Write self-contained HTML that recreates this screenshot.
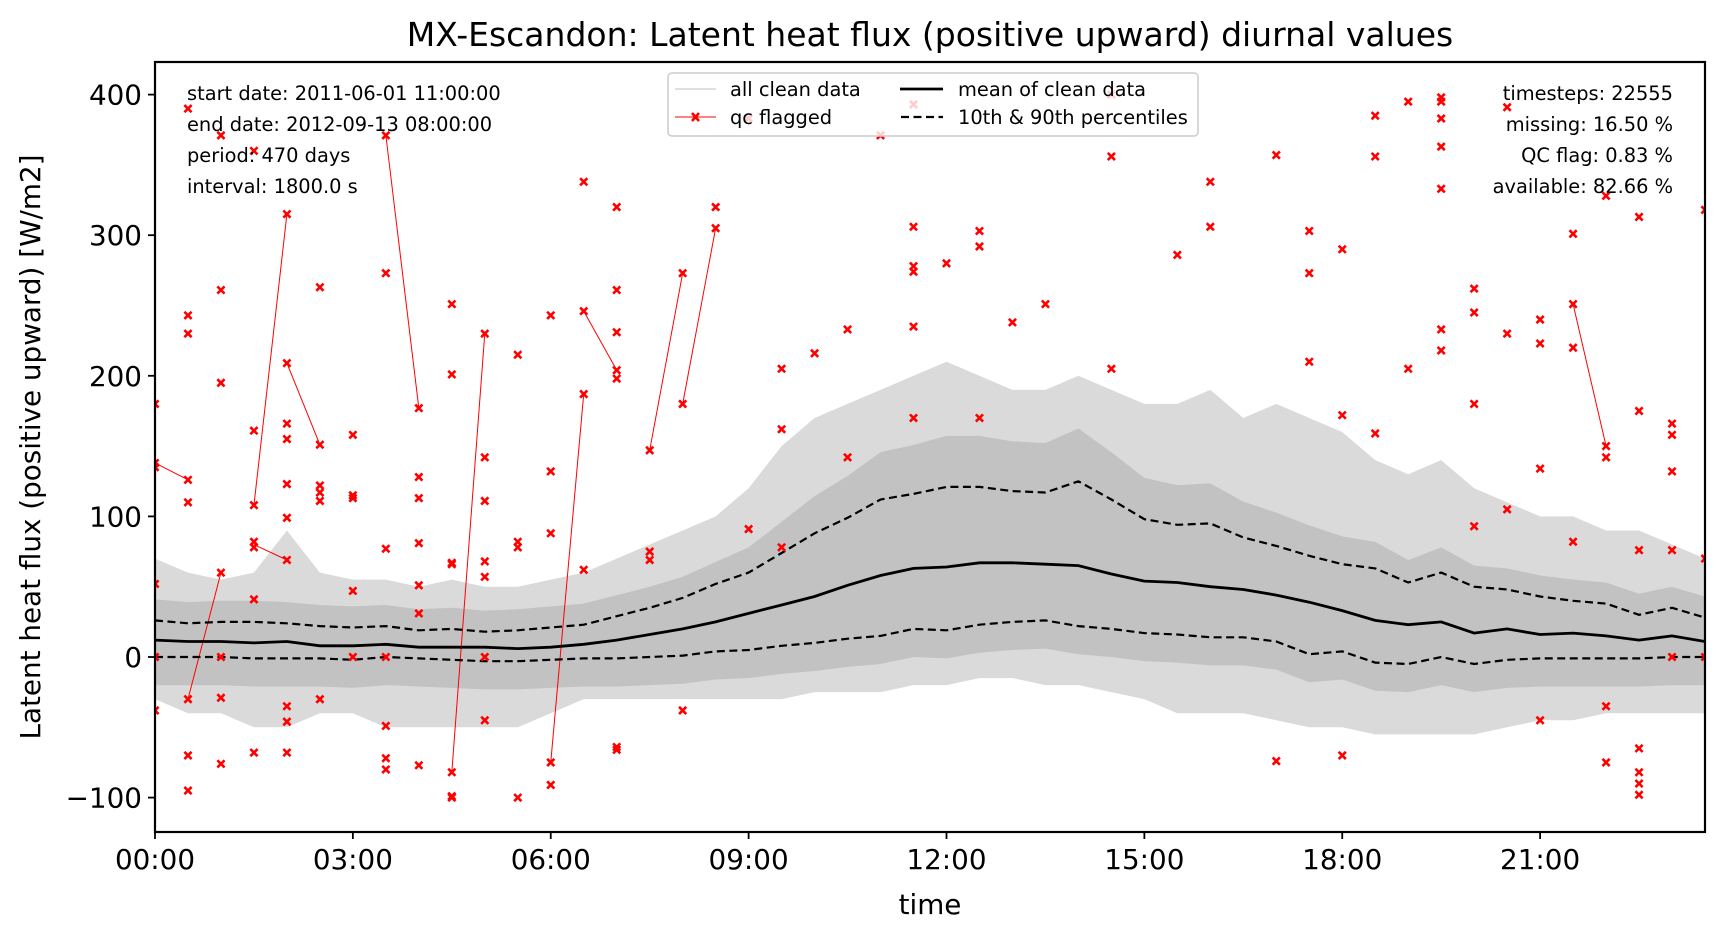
<!DOCTYPE html>
<html><head><meta charset="utf-8"><style>
body{margin:0;background:#fff}
svg{display:block;font-family:"DejaVu Sans","Liberation Sans",sans-serif}
</style></head><body>
<svg id="chart" width="1724" height="939" viewBox="0 0 1724 939">
<text x="930" y="46" font-size="33" text-anchor="middle">MX-Escandon: Latent heat flux (positive upward) diurnal values</text>
<g id="plot"></g>
<text x="40" y="447" font-size="27.8" text-anchor="middle" transform="rotate(-90 40 447)">Latent heat flux (positive upward) [W/m2]</text>
<text x="930" y="914" font-size="27.8" text-anchor="middle">time</text>
</svg>
<script>
const hours=[0,0.5,1,1.5,2,2.5,3,3.5,4,4.5,5,5.5,6,6.5,7,7.5,8,8.5,9,9.5,10,10.5,11,11.5,12,12.5,13,13.5,14,14.5,15,15.5,16,16.5,17,17.5,18,18.5,19,19.5,20,20.5,21,21.5,22,22.5,23,23.5];
const meanVals=[12,11,11,10,11,8,8,9,7,7,7,6,7,9,12,16,20,25,31,37,43,51,58,63,64,67,67,66,65,59,54,53,50,48,44,39,33,26,23,25,17,20,16,17,15,12,15,11];
const p90Vals=[26,24,25,25,24,22,21,22,19,20,18,19,21,23,29,35,42,52,60,74,88,99,112,116,121,121,118,117,125,112,98,94,95,85,79,72,66,63,53,60,50,48,43,40,38,30,35,28];
const p10Vals=[0,0,0,-1,-1,-1,-2,0,-1,-2,-3,-3,-2,-1,-1,0,1,4,5,8,10,13,15,20,19,23,25,26,22,20,17,16,14,14,11,2,4,-4,-5,0,-5,-2,-1,-1,-1,-1,0,0];
const outerHigh=[70,60,55,60,90,60,55,55,50,55,50,50,55,60,70,80,90,100,120,150,170,180,190,200,210,200,190,190,200,190,180,180,190,170,180,170,160,140,130,140,120,110,100,100,90,90,80,70];
const outerLow=[-30,-40,-40,-50,-50,-40,-40,-50,-50,-50,-50,-50,-40,-30,-30,-30,-30,-30,-30,-30,-25,-25,-25,-20,-20,-15,-15,-20,-20,-25,-30,-40,-40,-40,-45,-50,-50,-55,-55,-55,-55,-50,-45,-45,-40,-40,-40,-40];
const qcHours=[0,0,0,0,0,0, 0.5,0.5,0.5,0.5,0.5,0.5,0.5,0.5, 1,1,1,1,1,1,1, 1.5,1.5,1.5,1.5,1.5,1.5,1.5, 2,2,2,2,2,2,2,2,2,2, 2.5,2.5,2.5,2.5,2.5,2.5, 3,3,3,3,3, 3.5,3.5,3.5,3.5,3.5,3.5,3.5, 4,4,4,4,4,4,4, 4.5,4.5,4.5,4.5,4.5,4.5,4.5, 5,5,5,5,5,5,5, 5.5,5.5,5.5,5.5, 6,6,6,6,6, 6.5,6.5,6.5,6.5, 7,7,7,7,7,7,7, 7.5,7.5,7.5, 8,8,8, 8.5,8.5, 9,9, 9.5,9.5,9.5, 10, 10.5,10.5, 11, 11.5,11.5,11.5,11.5,11.5,11.5, 12, 12.5,12.5,12.5, 13, 13.5, 14.5,14.5,14.5, 15.5, 16,16, 17,17, 17.5,17.5,17.5, 18,18,18, 18.5,18.5,18.5, 19,19, 19.5,19.5,19.5,19.5,19.5,19.5,19.5, 20,20,20,20, 20.5,20.5,20.5, 21,21,21,21, 21.5,21.5,21.5,21.5, 22,22,22,22,22, 22.5,22.5,22.5,22.5,22.5,22.5,22.5, 23,23,23,23,23, 23.5,23.5,23.5];
const qcVals=[180,138,135,52,0,-38, 390,243,230,126,110,-30,-70,-95, 371,261,195,60,0,-29,-76, 360,161,108,82,78,41,-68, 315,209,166,155,123,99,69,-35,-46,-68, 263,151,122,117,111,-30, 158,115,113,47,0, 371,273,77,0,-49,-72,-80, 177,128,113,81,51,31,-77, 251,201,67,66,-82,-99,-100, 230,142,111,68,57,0,-45, 215,82,78,-100, 243,132,88,-75,-91, 338,246,187,62, 320,261,231,204,198,-64,-66, 147,75,69, 273,180,-38, 320,305, 383,91, 205,162,78, 216, 233,142, 371, 393,306,278,274,235,170, 280, 303,292,170, 238, 251, 400,356,205, 286, 338,306, 357,-74, 303,273,210, 290,172,-70, 385,356,159, 395,205, 398,395,383,363,333,233,218, 262,245,180,93, 391,230,105, 240,223,134,-45, 301,251,220,82, 328,150,142,-35,-75, 313,175,76,-65,-82,-90,-98, 166,158,132,76,0, 318,70,0];
const segFromH=[0,0.5,1.5,2,1.5,3.5,4.5,6,6.5,7.5,8,21.5];
const segFromV=[138,-30,108,209,80,371,-82,-75,246,147,180,251];
const segToH=[0.5,1,2,2.5,2,4,5,6.5,7,8,8.5,22];
const segToV=[126,60,315,151,69,177,230,187,204,273,305,150];
const yTicks=[-100,0,100,200,300,400];
const xTickHours=[0,3,6,9,12,15,18,21];
const xTickLabels=["00:00","03:00","06:00","09:00","12:00","15:00","18:00","21:00"];

const L=155,R=1705,T=62,B=832;
const X=h=>L+h*(R-L)/23.5;
const Y=v=>657-v*1.406;
const NS="http://www.w3.org/2000/svg";
const g=document.getElementById('plot');
function mk(tag,attrs,parent){const e=document.createElementNS(NS,tag);for(const k in attrs)e.setAttribute(k,attrs[k]);(parent||g).appendChild(e);return e;}

const defs=mk('defs',{});
const cp=mk('clipPath',{id:'clip'},defs);
mk('rect',{x:L,y:T,width:R-L,height:B-T},cp);
const area=mk('g',{'clip-path':'url(#clip)'});



function bandPath(hi,lo){let d='';hours.forEach((h,i)=>{d+=(i?'L':'M')+X(h)+' '+Y(hi[i]);});for(let i=hours.length-1;i>=0;i--)d+='L'+X(hours[i])+' '+Y(lo[i]);return d+'Z';}
const ob=mk('path',{d:bandPath(outerHigh,outerLow),fill:'#dadada'},area);


const coreHi=p90Vals.map(v=>v+Math.max(15,v*0.3)),coreLo=p10Vals.map(v=>v-20);
const cb=mk('path',{d:bandPath(coreHi,coreLo),fill:'#c2c2c2'},area);



for(let i=0;i<segFromH.length;i++){
  const s=mk('line',{x1:X(segFromH[i]),y1:Y(segFromV[i]),x2:X(segToH[i]),y2:Y(segToV[i]),stroke:'#f00','stroke-width':1},area);
  
  
}
function line(vals,attrs,name){let d='';hours.forEach((h,i)=>{d+=(i?'L':'M')+X(h).toFixed(1)+' '+Y(vals[i]).toFixed(1);});const p=mk('path',Object.assign({d:d,fill:'none'},attrs),area);

}
line(p90Vals,{stroke:'#000','stroke-width':2.2,'stroke-dasharray':'8,4.5'},'p90-line');
line(p10Vals,{stroke:'#000','stroke-width':2.2,'stroke-dasharray':'8,4.5'},'p10-line');
line(meanVals,{stroke:'#000','stroke-width':2.8},'mean-line');

qcHours.forEach((h,i)=>{const x=X(h),y=Y(qcVals[i]),r=3.6;
  const m=mk('path',{d:`M${x-r} ${y-r}L${x+r} ${y+r}M${x-r} ${y+r}L${x+r} ${y-r}`,stroke:'#f00','stroke-width':2.6},area);
  
  });

const fr=mk('rect',{x:L,y:T,width:R-L,height:B-T,fill:'none',stroke:'#000','stroke-width':2.2});



yTicks.forEach(v=>{const y=Y(v);
  const t=mk('line',{x1:L-7,x2:L,y1:y,y2:y,stroke:'#000','stroke-width':1.8});
  
  
  const lb=mk('text',{x:L-13,y:y+10,'font-size':27.8,'text-anchor':'end'});
  lb.textContent=v<0?'\u2212'+(-v):String(v);
  
  });
xTickHours.forEach((h,i)=>{const x=X(h);
  const t=mk('line',{x1:x,x2:x,y1:B,y2:B+7,stroke:'#000','stroke-width':1.8});
  
  
  const lb=mk('text',{x:x,y:B+37,'font-size':27.8,'text-anchor':'middle'});
  lb.textContent=xTickLabels[i];
  
  });

const leftInfo=["start date: 2011-06-01 11:00:00","end date: 2012-09-13 08:00:00","period: 470 days","interval: 1800.0 s"];
const rightInfo=["timesteps: 22555","missing: 16.50 %","QC flag: 0.83 %","available: 82.66 %"];
leftInfo.forEach((s,i)=>{const t=mk('text',{x:187,y:100+i*31,'font-size':19.4});t.textContent=s;
  
  });
rightInfo.forEach((s,i)=>{const t=mk('text',{x:1673,y:100+i*31,'font-size':19.4,'text-anchor':'end'});t.textContent=s;
  
  });

const lg=mk('g',{});


mk('rect',{x:668,y:73,width:530,height:63,rx:4,fill:'#fff','fill-opacity':0.8,stroke:'#ccc','stroke-width':1.5},lg);
mk('line',{x1:675,x2:716,y1:89,y2:89,stroke:'#bfbfbf','stroke-width':1},lg);
mk('line',{x1:675,x2:716,y1:117,y2:117,stroke:'#f00','stroke-width':1},lg);
mk('path',{d:'M692 113L699 121M692 121L699 113',stroke:'#f00','stroke-width':2.6},lg);
mk('line',{x1:900,x2:943,y1:89,y2:89,stroke:'#000','stroke-width':2.8},lg);
mk('line',{x1:901,x2:943,y1:117,y2:117,stroke:'#000','stroke-width':2.2,'stroke-dasharray':'8,4.5'},lg);
[["all clean data",730,96],["qc flagged",730,124],["mean of clean data",958,96],["10th & 90th percentiles",958,124]].forEach(a=>{
  const t=mk('text',{x:a[1],y:a[2],'font-size':19.4},lg);t.textContent=a[0];
  
  });
</script>
</body></html>
